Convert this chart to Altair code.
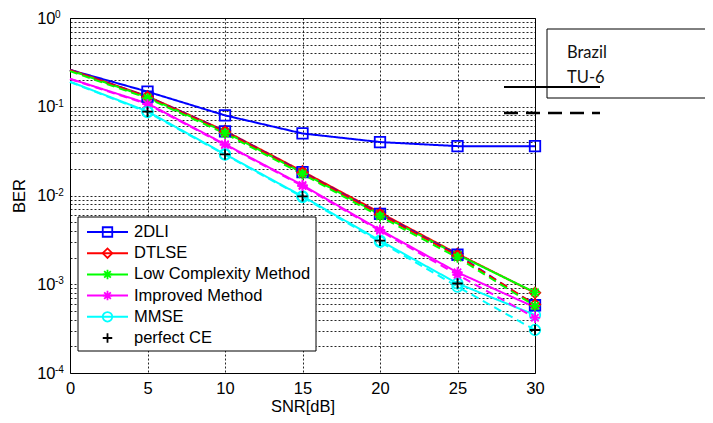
import altair as alt
import pandas as pd

# ---------------- data ----------------
snr = [0, 5, 10, 15, 20, 25, 30]
methods = ["2DLI", "DTLSE", "Low Complexity Method", "Improved Method", "MMSE", "perfect CE"]
channels = ["Brazil", "TU-6"]

# solid lines (Brazil)
b_2dli = [0.26, 0.148, 0.080, 0.050, 0.040, 0.036, 0.036]
b_dtlse = [0.262, 0.131, 0.0535, 0.0187, 0.0064, 0.0022, 0.00080]
b_lcm = [0.258, 0.128, 0.0520, 0.0180, 0.0061, 0.00215, 0.00081]
b_imp = [0.207, 0.109, 0.0378, 0.0131, 0.0041, 0.00136, 0.00055]
b_mmse = [0.192, 0.0886, 0.0292, 0.0098, 0.0031, 0.00102, 0.00045]
# dashed lines (TU-6)
t_2dli = [0.26, 0.130, 0.0528, 0.0183, 0.0062, 0.00215, 0.00058]
t_dtlse = [0.258, 0.129, 0.0520, 0.0181, 0.0061, 0.0021, 0.00059]
t_lcm = [0.252, 0.125, 0.0500, 0.0174, 0.0058, 0.0020, 0.00057]
t_imp = [0.205, 0.107, 0.0372, 0.0128, 0.0040, 0.00128, 0.00042]
t_mmse = [0.19, 0.087, 0.0288, 0.0096, 0.0030, 0.00094, 0.000305]
# perfect channel estimation (markers only)
ce_snr = [5, 10, 15, 20, 25, 30]
ce = [0.088, 0.029, 0.0098, 0.0031, 0.00102, 0.000305]

decades = [1, 0.1, 0.01, 0.001, 0.0001]
exponents = ["0", "-1", "-2", "-3", "-4"]

# ---------------- styles ----------------
colors = ["#0000FF", "#FF0000", "#00FF00", "#FF00FF", "#00FFFF", "#000000"]
STAR = "M-1,0L1,0M0,-1L0,1M-0.7,-0.7L0.7,0.7M-0.7,0.7L0.7,-0.7"
PLUS = "M-1,0L1,0M0,-1L0,1"
shapes = ["square", "diamond", STAR, STAR, "circle", PLUS]

series = {
    ("2DLI", "Brazil"): b_2dli, ("DTLSE", "Brazil"): b_dtlse,
    ("Low Complexity Method", "Brazil"): b_lcm, ("Improved Method", "Brazil"): b_imp,
    ("MMSE", "Brazil"): b_mmse,
    ("2DLI", "TU-6"): t_2dli, ("DTLSE", "TU-6"): t_dtlse,
    ("Low Complexity Method", "TU-6"): t_lcm, ("Improved Method", "TU-6"): t_imp,
    ("MMSE", "TU-6"): t_mmse,
}
rows = []
order = 0
for (m, ch), vals in series.items():
    for s, v in zip(snr, vals):
        rows.append({"method": m, "channel": ch, "snr": s, "ber": v, "order": order})
    order += 1
lines_df = pd.DataFrame(rows)
pts_df = lines_df[lines_df["snr"] >= 5].copy()
ce_df = pd.DataFrame({"method": "perfect CE", "channel": "Brazil", "snr": ce_snr, "ber": ce, "order": order})
pts_df = pd.concat([pts_df, ce_df], ignore_index=True)
exp_df = pd.DataFrame({"ber": decades, "exp": exponents})
leg_df = pd.DataFrame({"method": methods})
one = pd.DataFrame({"a": [0]})

W, H = 465, 355
font = "Liberation Sans"

color_scale = alt.Scale(domain=methods, range=colors)
shape_scale = alt.Scale(domain=methods, range=shapes)
yscale = alt.Scale(type="log", domain=[1e-4, 1], nice=False)
xscale = alt.Scale(domain=[0, 30], nice=False)

ytick_vals = [1.0] + [k * 10.0 ** e for e in range(-4, 0) for k in range(1, 10)]
yaxis = alt.Axis(values=ytick_vals, title="BER", grid=True, ticks=False, tickSize=0,
                 labelPadding=15, titlePadding=9,
                 labelExpr="abs(log(datum.value)/LN10 - round(log(datum.value)/LN10)) < 1e-6 ? '10' : ''")
xaxis = alt.Axis(values=[0, 5, 10, 15, 20, 25, 30], title="SNR[dB]", grid=True, ticks=False,
                 tickSize=0, labelPadding=7, titlePadding=2, labelFlush=False)

lines = alt.Chart(lines_df).mark_line(strokeWidth=2).encode(
    x=alt.X("snr:Q", scale=xscale, axis=xaxis),
    y=alt.Y("ber:Q", scale=yscale, axis=yaxis),
    color=alt.Color("method:N", scale=color_scale, legend=None),
    strokeDash=alt.StrokeDash("channel:N", scale=alt.Scale(domain=channels, range=[[1, 0], [8, 5]]), legend=None),
    detail="order:N",
)
points = alt.Chart(pts_df).mark_point(filled=False, strokeWidth=1.8, size=110, opacity=1).encode(
    x=alt.X("snr:Q", scale=xscale),
    y=alt.Y("ber:Q", scale=yscale, title="BER"),
    color=alt.Color("method:N", scale=color_scale, legend=None),
    shape=alt.Shape("method:N", scale=shape_scale, legend=None),
)
exps = alt.Chart(exp_df).mark_text(align="left", baseline="alphabetic", dy=0, font=font,
                                   fontSize=10, color="black").encode(
    x=alt.value(-15),
    y=alt.Y("ber:Q", scale=yscale, title="BER"),
    text="exp:N",
)
main = alt.layer(lines, points, exps)

# ---------------- legend (drawn) ----------------
leg_y = alt.Y("method:N", sort=methods, scale=alt.Scale(type="point", domain=methods, range=[214, 320], padding=0), axis=None)
leg_box = alt.Chart(one).mark_rect(fill="white", stroke="black", strokeWidth=1).encode(
    x=alt.value(8), x2=alt.value(246), y=alt.value(199), y2=alt.value(333))
leg_rules = alt.Chart(leg_df).mark_rule(strokeWidth=2).encode(
    x=alt.value(17), x2=alt.value(58), y=leg_y,
    color=alt.Color("method:N", scale=color_scale, legend=None),
).transform_filter(alt.datum.method != "perfect CE")
leg_pts = alt.Chart(leg_df).mark_point(filled=False, strokeWidth=1.8, size=90, opacity=1).encode(
    x=alt.value(37.5), y=leg_y,
    color=alt.Color("method:N", scale=color_scale, legend=None),
    shape=alt.Shape("method:N", scale=shape_scale, legend=None),
)
leg_text = alt.Chart(leg_df).mark_text(align="left", baseline="middle", font=font, fontSize=16.5, color="black").encode(
    x=alt.value(64), y=leg_y, text="method:N")

# ---------------- annotation box ----------------
anno_box = alt.Chart(one).mark_rect(fill="white", stroke="black", strokeWidth=1).encode(
    x=alt.value(477), x2=alt.value(642), y=alt.value(11), y2=alt.value(80))
anno_df = pd.DataFrame({"t": channels, "yy": [40, 65]})
anno_text = alt.Chart(anno_df).mark_text(align="left", baseline="alphabetic", font="Lato", fontSize=16.5, color="#111").encode(
    x=alt.value(497), y=alt.Y("yy:Q", scale=alt.Scale(domain=[0, H], range=[0, H]), axis=None), text="t:N")
anno_solid = alt.Chart(one).mark_rule(color="black", strokeWidth=2).encode(
    x=alt.value(434), x2=alt.value(530), y=alt.value(69))
anno_dash = alt.Chart(one).mark_rule(color="black", strokeWidth=2.5, strokeDash=[14, 8]).encode(
    x=alt.value(434), x2=alt.value(530), y=alt.value(95))

overlay = alt.layer(leg_box, leg_rules, leg_pts, leg_text, anno_box, anno_text, anno_solid, anno_dash).resolve_scale(y="independent")

chart = alt.layer(main, overlay).resolve_scale(y="independent").properties(
    width=W, height=H,
    padding={"left": 62, "top": 10, "right": 170, "bottom": 42},
    autosize=alt.AutoSizeParams(type="none"),
    background="white",
).configure_view(stroke="black", strokeWidth=1).configure_axis(
    labelFont=font, labelFontSize=16.5, labelColor="black",
    titleFont=font, titleFontSize=16.5, titleFontWeight="normal", titleColor="black",
    gridColor="#000000", gridDash=[2, 2], gridWidth=1, gridOpacity=0.85, domain=False,
)

chart.save("out.html", embed_options={"renderer": "svg", "actions": False})
